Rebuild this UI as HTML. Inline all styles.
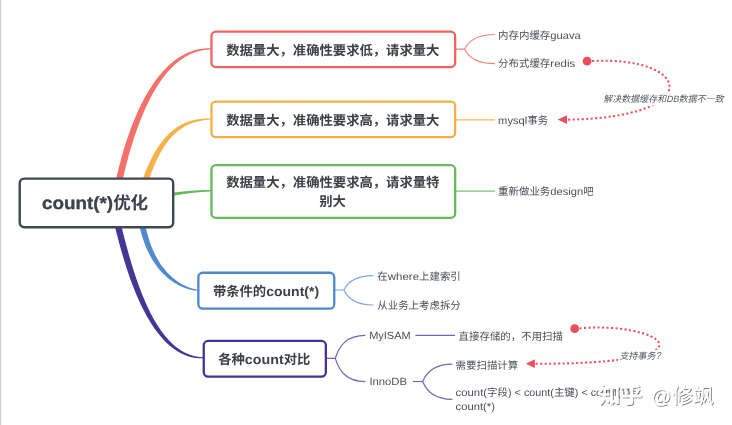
<!DOCTYPE html>
<html lang="zh-CN">
<head>
<meta charset="utf-8">
<title>count(*)优化</title>
<style>
html,body{margin:0;padding:0;background:#fff;}
body{width:732px;height:425px;overflow:hidden;font-family:"Liberation Sans","Noto Sans CJK SC",sans-serif;}
svg{display:block;will-change:transform;}
</style>
</head>
<body>
<svg width="732" height="425" viewBox="0 0 732 425" font-family="'Liberation Sans', 'Noto Sans CJK SC', sans-serif" text-rendering="geometricPrecision">
<defs>
<filter id="wsh" x="-5%" y="-20%" width="110%" height="140%"><feDropShadow dx="1" dy="1" stdDeviation="0.6" flood-color="#000" flood-opacity="0.5"/></filter>
</defs>
<rect x="0" y="0" width="1.15" height="425" fill="#cdcdcd"/>
<path d="M120.43 190.65 L120.91 188.33 L121.43 185.83 L122 183.15 L122.62 180.32 L123.29 177.34 L124 174.21 L124.78 170.96 L125.6 167.58 L126.48 164.1 L127.41 160.51 L128.39 156.84 L129.44 153.08 L130.54 149.26 L131.7 145.38 L132.92 141.44 L134.19 137.47 L135.53 133.47 L136.94 129.45 L138.4 125.43 L139.93 121.4 L141.53 117.39 L143.19 113.39 L144.92 109.43 L146.72 105.51 L148.59 101.64 L150.53 97.84 L152.54 94.1 L154.63 90.45 L156.79 86.89 L159.03 83.43 L161.35 80.09 L163.75 76.86 L166.22 73.77 L168.78 70.81 L171.42 68.01 L174.15 65.36 L176.96 62.88 L179.87 60.59 L182.86 58.47 L185.95 56.56 L189.14 54.85 L192.43 53.35 L195.82 52.08 L199.32 51.05 L202.93 50.25 L206.66 49.72 L210.5 49.45 L210.5 48.35 L206.56 48.37 L202.69 48.67 L198.92 49.25 L195.22 50.11 L191.62 51.22 L188.1 52.58 L184.67 54.18 L181.33 56.01 L178.07 58.05 L174.91 60.3 L171.84 62.74 L168.86 65.36 L165.98 68.16 L163.18 71.11 L160.46 74.22 L157.84 77.46 L155.3 80.83 L152.85 84.32 L150.49 87.91 L148.21 91.6 L146.01 95.37 L143.89 99.22 L141.85 103.13 L139.89 107.1 L138.02 111.11 L136.21 115.15 L134.49 119.21 L132.84 123.29 L131.26 127.37 L129.76 131.44 L128.32 135.49 L126.96 139.51 L125.66 143.5 L124.44 147.43 L123.27 151.3 L122.18 155.11 L121.14 158.83 L120.17 162.46 L119.26 165.99 L118.4 169.41 L117.61 172.71 L116.87 175.87 L116.18 178.89 L115.55 181.76 L114.97 184.47 L114.45 187 L113.97 189.35Z" fill="#f6706a"/>
<path d="M145.32 190.89 L146.26 187.82 L147.22 184.83 L148.18 181.9 L149.14 179.06 L150.12 176.28 L151.11 173.58 L152.11 170.94 L153.12 168.39 L154.14 165.9 L155.18 163.48 L156.24 161.14 L157.31 158.86 L158.39 156.66 L159.5 154.52 L160.62 152.46 L161.76 150.46 L162.91 148.53 L164.09 146.67 L165.29 144.88 L166.51 143.15 L167.75 141.49 L169.01 139.89 L170.3 138.36 L171.61 136.9 L172.95 135.5 L174.31 134.16 L175.7 132.88 L177.11 131.67 L178.56 130.51 L180.03 129.42 L181.54 128.39 L183.07 127.41 L184.64 126.5 L186.24 125.64 L187.87 124.85 L189.54 124.11 L191.25 123.43 L192.99 122.8 L194.78 122.24 L196.6 121.73 L198.46 121.28 L200.36 120.88 L202.3 120.54 L204.29 120.26 L206.32 120.03 L208.39 119.86 L210.5 119.75 L210.5 118.65 L208.35 118.6 L206.23 118.6 L204.15 118.67 L202.1 118.81 L200.08 119.01 L198.09 119.27 L196.12 119.6 L194.19 119.99 L192.29 120.45 L190.42 120.98 L188.58 121.57 L186.76 122.23 L184.98 122.96 L183.22 123.75 L181.49 124.62 L179.79 125.55 L178.12 126.55 L176.48 127.62 L174.86 128.76 L173.27 129.97 L171.71 131.25 L170.17 132.6 L168.66 134.02 L167.18 135.5 L165.73 137.06 L164.3 138.69 L162.89 140.38 L161.52 142.14 L160.16 143.98 L158.83 145.88 L157.52 147.85 L156.24 149.9 L154.98 152.01 L153.74 154.19 L152.52 156.45 L151.33 158.77 L150.15 161.17 L149 163.64 L147.86 166.18 L146.75 168.79 L145.65 171.47 L144.58 174.23 L143.52 177.06 L142.48 179.96 L141.46 182.93 L140.46 185.98 L139.48 189.11Z" fill="#f6b248"/>
<path d="M137.73 216.44 L138.4 220.57 L139.16 224.55 L140.01 228.39 L140.93 232.08 L141.93 235.63 L143 239.04 L144.14 242.31 L145.33 245.44 L146.59 248.44 L147.89 251.32 L149.25 254.06 L150.65 256.68 L152.09 259.17 L153.56 261.55 L155.07 263.8 L156.61 265.94 L158.17 267.97 L159.75 269.89 L161.35 271.69 L162.96 273.4 L164.57 275 L166.2 276.51 L167.82 277.91 L169.44 279.23 L171.05 280.45 L172.65 281.59 L174.24 282.64 L175.81 283.61 L177.36 284.5 L178.88 285.32 L180.38 286.06 L181.84 286.73 L183.26 287.34 L184.65 287.88 L185.99 288.37 L187.28 288.79 L188.53 289.17 L189.72 289.49 L190.86 289.76 L191.93 289.99 L192.94 290.17 L193.89 290.32 L194.76 290.42 L195.56 290.5 L196.29 290.54 L196.93 290.56 L197.5 290.55 L197.5 289.45 L196.99 289.42 L196.39 289.35 L195.71 289.25 L194.95 289.12 L194.13 288.95 L193.24 288.74 L192.29 288.48 L191.28 288.18 L190.21 287.84 L189.09 287.44 L187.93 286.99 L186.72 286.49 L185.47 285.93 L184.18 285.31 L182.86 284.63 L181.52 283.88 L180.14 283.07 L178.75 282.19 L177.34 281.24 L175.91 280.21 L174.47 279.11 L173.02 277.94 L171.57 276.68 L170.12 275.34 L168.67 273.91 L167.22 272.4 L165.79 270.79 L164.36 269.09 L162.95 267.3 L161.56 265.41 L160.19 263.42 L158.84 261.32 L157.53 259.12 L156.24 256.81 L154.99 254.39 L153.77 251.85 L152.59 249.2 L151.46 246.43 L150.37 243.53 L149.34 240.51 L148.35 237.35 L147.42 234.07 L146.55 230.65 L145.73 227.09 L144.98 223.4 L144.29 219.55 L143.67 215.56Z" fill="#528ad0"/>
<path d="M112.4 216.8 L113.09 219.46 L113.8 222.29 L114.56 225.26 L115.35 228.37 L116.18 231.61 L117.05 234.97 L117.96 238.44 L118.91 242.01 L119.91 245.68 L120.95 249.42 L122.04 253.24 L123.18 257.12 L124.37 261.05 L125.61 265.03 L126.9 269.04 L128.25 273.08 L129.65 277.13 L131.11 281.19 L132.62 285.24 L134.2 289.29 L135.83 293.3 L137.53 297.29 L139.29 301.24 L141.11 305.13 L143 308.97 L144.96 312.73 L146.98 316.42 L149.07 320.01 L151.23 323.51 L153.47 326.9 L155.77 330.17 L158.15 333.32 L160.6 336.33 L163.13 339.19 L165.73 341.89 L168.41 344.43 L171.17 346.79 L174.01 348.96 L176.92 350.93 L179.92 352.69 L182.99 354.24 L186.14 355.55 L189.36 356.63 L192.66 357.46 L196.04 358.02 L199.48 358.32 L203 358.35 L203 357.25 L199.59 357 L196.28 356.5 L193.07 355.75 L189.96 354.77 L186.95 353.57 L184.02 352.14 L181.19 350.51 L178.43 348.68 L175.76 346.65 L173.17 344.44 L170.65 342.06 L168.2 339.51 L165.83 336.81 L163.53 333.95 L161.3 330.95 L159.14 327.82 L157.04 324.57 L155.01 321.21 L153.04 317.73 L151.13 314.17 L149.29 310.51 L147.5 306.78 L145.77 302.98 L144.1 299.12 L142.49 295.21 L140.93 291.26 L139.42 287.28 L137.96 283.27 L136.56 279.26 L135.2 275.23 L133.89 271.22 L132.63 267.22 L131.41 263.24 L130.24 259.29 L129.12 255.39 L128.03 251.54 L126.99 247.75 L125.99 244.03 L125.02 240.39 L124.1 236.84 L123.21 233.38 L122.36 230.03 L121.54 226.8 L120.76 223.69 L120.01 220.71 L119.29 217.88 L118.6 215.2Z" fill="#463595"/>
<path d="M160.32 198.22 L161.46 197.99 L162.6 197.77 L163.74 197.55 L164.87 197.33 L166 197.11 L167.12 196.9 L168.25 196.69 L169.37 196.48 L170.49 196.28 L171.6 196.08 L172.71 195.88 L173.83 195.68 L174.93 195.49 L176.04 195.31 L177.14 195.12 L178.24 194.94 L179.34 194.76 L180.43 194.59 L181.52 194.42 L182.61 194.26 L183.69 194.1 L184.78 193.94 L185.86 193.79 L186.94 193.64 L188.01 193.49 L189.08 193.35 L190.15 193.22 L191.22 193.09 L192.29 192.96 L193.35 192.84 L194.41 192.72 L195.46 192.61 L196.52 192.5 L197.57 192.4 L198.62 192.3 L199.67 192.21 L200.71 192.12 L201.75 192.04 L202.79 191.96 L203.82 191.89 L204.86 191.82 L205.89 191.76 L206.92 191.71 L207.94 191.66 L208.97 191.62 L209.99 191.58 L211 191.55 L211 190.05 L209.97 190.04 L208.94 190.03 L207.9 190.03 L206.87 190.03 L205.83 190.05 L204.79 190.06 L203.74 190.08 L202.7 190.11 L201.65 190.14 L200.59 190.18 L199.54 190.22 L198.48 190.27 L197.42 190.32 L196.35 190.38 L195.29 190.44 L194.22 190.51 L193.14 190.58 L192.07 190.66 L190.99 190.74 L189.91 190.83 L188.82 190.92 L187.74 191.01 L186.65 191.11 L185.56 191.22 L184.46 191.32 L183.36 191.44 L182.26 191.55 L181.16 191.67 L180.05 191.79 L178.94 191.92 L177.83 192.05 L176.72 192.19 L175.6 192.32 L174.48 192.46 L173.36 192.61 L172.23 192.76 L171.1 192.91 L169.97 193.06 L168.84 193.22 L167.7 193.38 L166.57 193.54 L165.42 193.71 L164.28 193.88 L163.13 194.05 L161.98 194.22 L160.83 194.4 L159.68 194.58Z" fill="#65ba59"/>
<path d="M456 49.2H464.6 M464.6 49.2C468.55 41.12 476 34.5 495 34.5 M464.6 49.2C468.55 57.12 476 63.6 495 63.6" fill="none" stroke="#ee6560" stroke-width="1.2" stroke-opacity="0.8"/>
<path d="M456 119.8H495" fill="none" stroke="#f4b044" stroke-width="1.2" stroke-opacity="0.9"/>
<path d="M456 191.2H495" fill="none" stroke="#65ba59" stroke-width="1.2" stroke-opacity="0.85"/>
<path d="M335 290H343.9 M343.9 290C347.73 282.13 354.96 275.7 373.4 275.7 M343.9 290C347.73 298.25 354.96 305 373.4 305" fill="none" stroke="#4f88cf" stroke-width="1.2" stroke-opacity="0.75"/>
<path d="M326.5 358.3H335.3 M335.3 358.3C339.2 345.7 346.55 335.4 365.3 335.4 M335.3 358.3C339.2 371.12 346.55 381.6 365.3 381.6" fill="none" stroke="#443394" stroke-width="1.2" stroke-opacity="0.75"/>
<path d="M415.5 335.4H455" fill="none" stroke="#443394" stroke-width="1.2" stroke-opacity="0.75"/>
<path d="M413 381.5H422.7" fill="none" stroke="#443394" stroke-width="1.2" stroke-opacity="0.75"/>
<path d="M422.7 381.5H422.7 M422.7 381.5C426.56 371.99 433.84 364.2 452.4 364.2 M422.7 381.5C426.56 391.29 433.84 399.3 452.4 399.3" fill="none" stroke="#443394" stroke-width="1.2" stroke-opacity="0.75"/>
<rect x="19.7" y="178.6" width="153.5" height="48.6" rx="4.6" fill="#fff" stroke="#3f4852" stroke-width="2.4"/>
<rect x="211.45" y="31.65" width="243.7" height="35.4" rx="4.4" fill="#fff" stroke="#ee6560" stroke-width="2.3"/>
<rect x="211.45" y="101.55" width="243.7" height="35.6" rx="4.4" fill="#fff" stroke="#f4b044" stroke-width="2.3"/>
<rect x="211.45" y="165.15" width="243.7" height="52.7" rx="4.4" fill="#fff" stroke="#65ba59" stroke-width="2.3"/>
<rect x="198.35" y="272.75" width="135.9" height="35.9" rx="4.4" fill="#fff" stroke="#4f88cf" stroke-width="2.3"/>
<rect x="203.75" y="340.95" width="122.1" height="35.7" rx="4.4" fill="#fff" stroke="#443394" stroke-width="2.3"/>
<g fill="#3a434e"><title>count(*)优化</title><text transform="translate(42 209.3) scale(1.0700 1)" font-size="17.6" font-weight="bold" stroke="#3a434e" stroke-width="0.35" stroke-linejoin="round" xml:space="preserve">count(*)</text><text x="113.13" y="209.3" font-size="17.5" font-weight="bold">优化</text></g>
<g fill="#3c4148"><title>数据量大，准确性要求低，请求量大</title><text x="226.2" y="54.5" font-size="13.33" font-weight="bold">数据量大，准确性要求低，请求量大</text></g>
<g fill="#3c4148"><title>数据量大，准确性要求高，请求量大</title><text x="226.2" y="124.5" font-size="13.33" font-weight="bold">数据量大，准确性要求高，请求量大</text></g>
<g fill="#3c4148"><title>数据量大，准确性要求高，请求量特</title><text x="226.2" y="187.4" font-size="13.33" font-weight="bold">数据量大，准确性要求高，请求量特</text></g>
<g fill="#3c4148"><title>别大</title><text x="319.3" y="206.2" font-size="13.33" font-weight="bold">别大</text></g>
<g fill="#3c4148"><title>带条件的count(*)</title><text x="212.9" y="295.5" font-size="13.33" font-weight="bold">带条件的</text><text transform="translate(266.22 295.5) scale(1.0500 1)" font-size="13.33" font-weight="bold" xml:space="preserve">count(*)</text></g>
<g fill="#3c4148"><title>各种count对比</title><text x="218.2" y="363.7" font-size="13.33" font-weight="bold">各种</text><text transform="translate(244.86 363.7) scale(1.0700 1)" font-size="13.33" font-weight="bold" xml:space="preserve">count</text><text x="283.68" y="363.7" font-size="13.33" font-weight="bold">对比</text></g>
<g fill="#4a4f57"><title>内存内缓存guava</title><text x="498.1" y="38.87" font-size="10.45">内存内缓存</text><text transform="translate(550.35 38.87) scale(1.0700 1)" font-size="10.45" xml:space="preserve">guava</text></g>
<g fill="#4a4f57"><title>分布式缓存redis</title><text x="498.1" y="67.37" font-size="10.45">分布式缓存</text><text transform="translate(550.35 67.37) scale(1.1000 1)" font-size="10.45" xml:space="preserve">redis</text></g>
<g fill="#4a4f57"><title>mysql事务</title><text transform="translate(498.1 123.87) scale(1.0700 1)" font-size="10.45" xml:space="preserve">mysql</text><text x="527.3" y="123.87" font-size="10.45">事务</text></g>
<g fill="#4a4f57"><title>重新做业务design吧</title><text x="498.1" y="195.07" font-size="10.45">重新做业务</text><text transform="translate(550.35 195.07) scale(1.0700 1)" font-size="10.45" xml:space="preserve">design</text><text x="583.3" y="195.07" font-size="10.45">吧</text></g>
<g fill="#4a4f57"><title>在where上建索引</title><text x="377.3" y="280.07" font-size="10.45">在</text><text transform="translate(387.75 280.07) scale(1.1000 1)" font-size="10.45" xml:space="preserve">where</text><text x="419.06" y="280.07" font-size="10.45">上建索引</text></g>
<g fill="#4a4f57"><title>从业务上考虑拆分</title><text x="377.3" y="308.87" font-size="10.45">从业务上考虑拆分</text></g>
<g fill="#4a4f57"><title>MyISAM</title><text transform="translate(369.2 339.47) scale(1.0500 1)" font-size="10.45" xml:space="preserve">MyISAM</text></g>
<g fill="#4a4f57"><title>InnoDB</title><text transform="translate(369.4 385.47) scale(1.0800 1)" font-size="10.45" xml:space="preserve">InnoDB</text></g>
<g fill="#4a4f57"><title>直接存储的，不用扫描</title><text x="458.6" y="339.67" font-size="10.45">直接存储的，不用扫描</text></g>
<g fill="#4a4f57"><title>需要扫描计算</title><text x="455.6" y="368.67" font-size="10.45">需要扫描计算</text></g>
<g fill="#4a4f57"><title>count(字段) &lt; count(主键) &lt; count(1) ≈</title><text transform="translate(455.6 395.97) scale(1.0850 1)" font-size="10.45" xml:space="preserve">count(</text><text x="487.11" y="395.97" font-size="10.45">字段</text><text transform="translate(508.01 395.97) scale(1.0330 1)" font-size="10.45" xml:space="preserve">) &lt; count(</text><text x="553.91" y="395.97" font-size="10.45">主键</text><text transform="translate(574.81 395.97) scale(1.0330 1)" font-size="10.45" xml:space="preserve">) &lt; count(1) ≈</text></g>
<g fill="#4a4f57"><title>count(*)</title><text transform="translate(455.6 409.67) scale(1.0750 1)" font-size="10.45" xml:space="preserve">count(*)</text></g>
<path d="M592 61 C691.7 55.9 707.3 117.4 567 119.7" fill="none" stroke="#ea4f5b" stroke-width="2.05" stroke-dasharray="2.05 2.45"/>
<circle cx="587.1" cy="61.2" r="4.4" fill="#ea4f5b"/>
<path d="M557.7 119.6 L567 115.2 V124Z" fill="#ea4f5b"/>
<path d="M579.5 328.4 C657.2 320.7 729 364 535 363.8" fill="none" stroke="#ea4f5b" stroke-width="2.05" stroke-dasharray="2.05 2.45"/>
<circle cx="574.7" cy="328.7" r="4.4" fill="#ea4f5b"/>
<path d="M525.8 363.7 L534.9 359.3 V368.1Z" fill="#ea4f5b"/>
<rect x="602" y="93" width="123" height="12.5" fill="#fff"/>
<g fill="#555a62" transform="translate(603.3 102.3) skewX(-12) translate(-603.3 -102.3)"><title>解决数据缓存和DB数据不一致</title><text x="603.3" y="102.3" font-size="9">解决数据缓存和</text><text transform="translate(666.3 102.3) scale(1.0000 1)" font-size="9" xml:space="preserve">DB</text><text x="678.8" y="102.3" font-size="9">数据不一致</text></g>
<rect x="618" y="349.8" width="42" height="11.5" fill="#fff"/>
<g fill="#555a62" transform="translate(619.6 358.8) skewX(-12) translate(-619.6 -358.8)"><title>支持事务?</title><text x="619.6" y="358.8" font-size="9">支持事务</text><text transform="translate(655.6 358.8) scale(0.9000 1)" font-size="10.2" xml:space="preserve">?</text></g>
<g filter="url(#wsh)"><title>知乎 @修飒</title><g fill="#fff"><text x="598.6" y="403.2" font-size="21.8" font-weight="bold">知乎</text></g><g fill="#fff"><text transform="translate(651 402.5) scale(1.0000 1)" font-size="19.8" xml:space="preserve">@</text></g><g fill="#fff"><text x="671.8" y="402.8" font-size="20.9">修飒</text></g></g>
</svg>
</body>
</html>
